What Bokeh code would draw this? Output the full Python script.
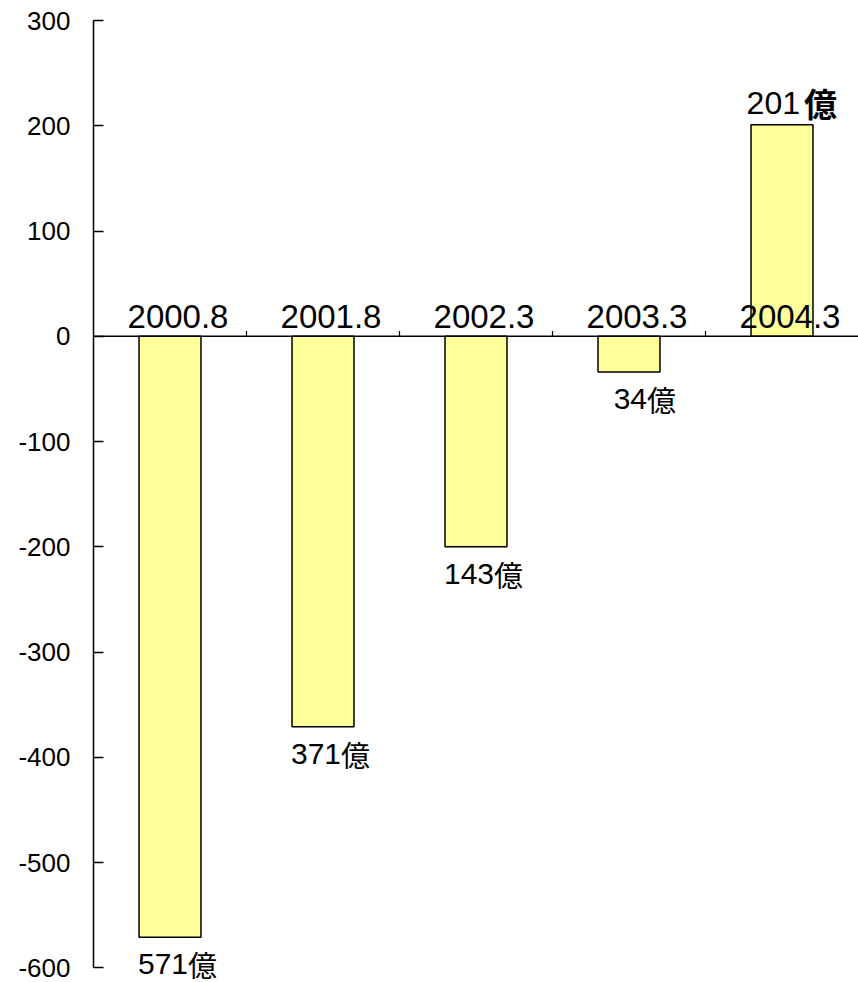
import numpy as np
from bokeh.plotting import figure
from bokeh.models import ColumnDataSource, FixedTicker, Range1d
from bokeh.core.properties import value
from bokeh.embed import file_html
from bokeh.resources import INLINE

# ---- data ----
categories = ["2000.8", "2001.8", "2002.3", "2003.3", "2004.3"]
values = [-571, -371, -200, -34, 201]
value_numbers = ["571", "371", "143", "34", "201"]
value_units = ["億", "億", "億", "億", "億"]
unit_styles = ["normal", "normal", "normal", "normal", "bold"]
y_ticks = [-600, -500, -400, -300, -200, -100, 0, 100, 200, 300]

FONT = "Liberation Sans"
idx = np.arange(1, len(categories) + 1)
vals = np.array(values, dtype=float)
label_yoff = np.where(vals < 0, 27, -22)
label_size = np.where(vals < 0, "30px", "32px")
unit_size = np.where(vals < 0, "29px", "33px")
unit_xoff = np.where(vals < 0, 18, 22)

src = ColumnDataSource(dict(
    x=idx, top=vals, cat=categories, num=value_numbers, unit=value_units,
    ustyle=unit_styles, yoff=label_yoff, zero=np.zeros(len(idx)),
    nsize=label_size, usize=unit_size, uxoff=unit_xoff,
))

p = figure(width=858, height=982, output_backend="svg", toolbar_location=None,
           x_range=Range1d(0.5, len(categories) + 0.5), y_range=Range1d(-614, 300),
           x_axis_location=None, min_border_left=93, min_border_right=0,
           min_border_top=20, min_border_bottom=0)
p.outline_line_color = None
p.grid.visible = False
p.background_fill_color = "white"

yax = p.yaxis[0]
yax.ticker = FixedTicker(ticks=y_ticks)
yax.bounds = (min(y_ticks), max(y_ticks))
yax.major_label_overrides = {t: str(t) for t in y_ticks}
yax.axis_line_color = "black"
yax.axis_line_width = 1.5
yax.major_tick_in = 10
yax.major_tick_out = 0
yax.major_tick_line_width = 1.5
yax.minor_tick_line_color = None
yax.major_label_text_font = FONT
yax.major_label_text_font_size = "26px"
yax.major_label_text_color = "black"
yax.major_label_standoff = 23

# bars
p.vbar(x="x", top="top", bottom=0, width=0.405, source=src,
       fill_color="#FFFF99", line_color="black", line_width=1.5)

# zero line
p.segment(x0=[0.5], y0=[0], x1=[len(categories) + 0.5], y1=[0],
          line_color="black", line_width=1.5)

# separator ticks between categories
sep = idx[:-1] + 0.5
p.segment(x0=sep, y0=np.zeros(len(sep)), x1=sep, y1=np.full(len(sep), 5.0),
          line_color="black", line_width=1.2)

# category labels sitting on the zero line
p.text(x="x", y="zero", text="cat", source=src, text_align="center",
       text_baseline="bottom", x_offset=8, y_offset=-8,
       text_font=value(FONT), text_font_size="33px", text_color="black")

# value labels
p.text(x="x", y="top", text="num", source=src, text_align="right",
       text_baseline="middle", x_offset=18, y_offset="yoff",
       text_font=value(FONT), text_font_size="nsize", text_color="black")
p.text(x="x", y="top", text="unit", source=src, text_align="left",
       text_baseline="middle", x_offset="uxoff", y_offset="yoff",
       text_font=value("Noto Sans CJK JP"), text_font_size="usize",
       text_font_style="ustyle", text_color="black")

open("out.html", "w").write(file_html(p, INLINE))
